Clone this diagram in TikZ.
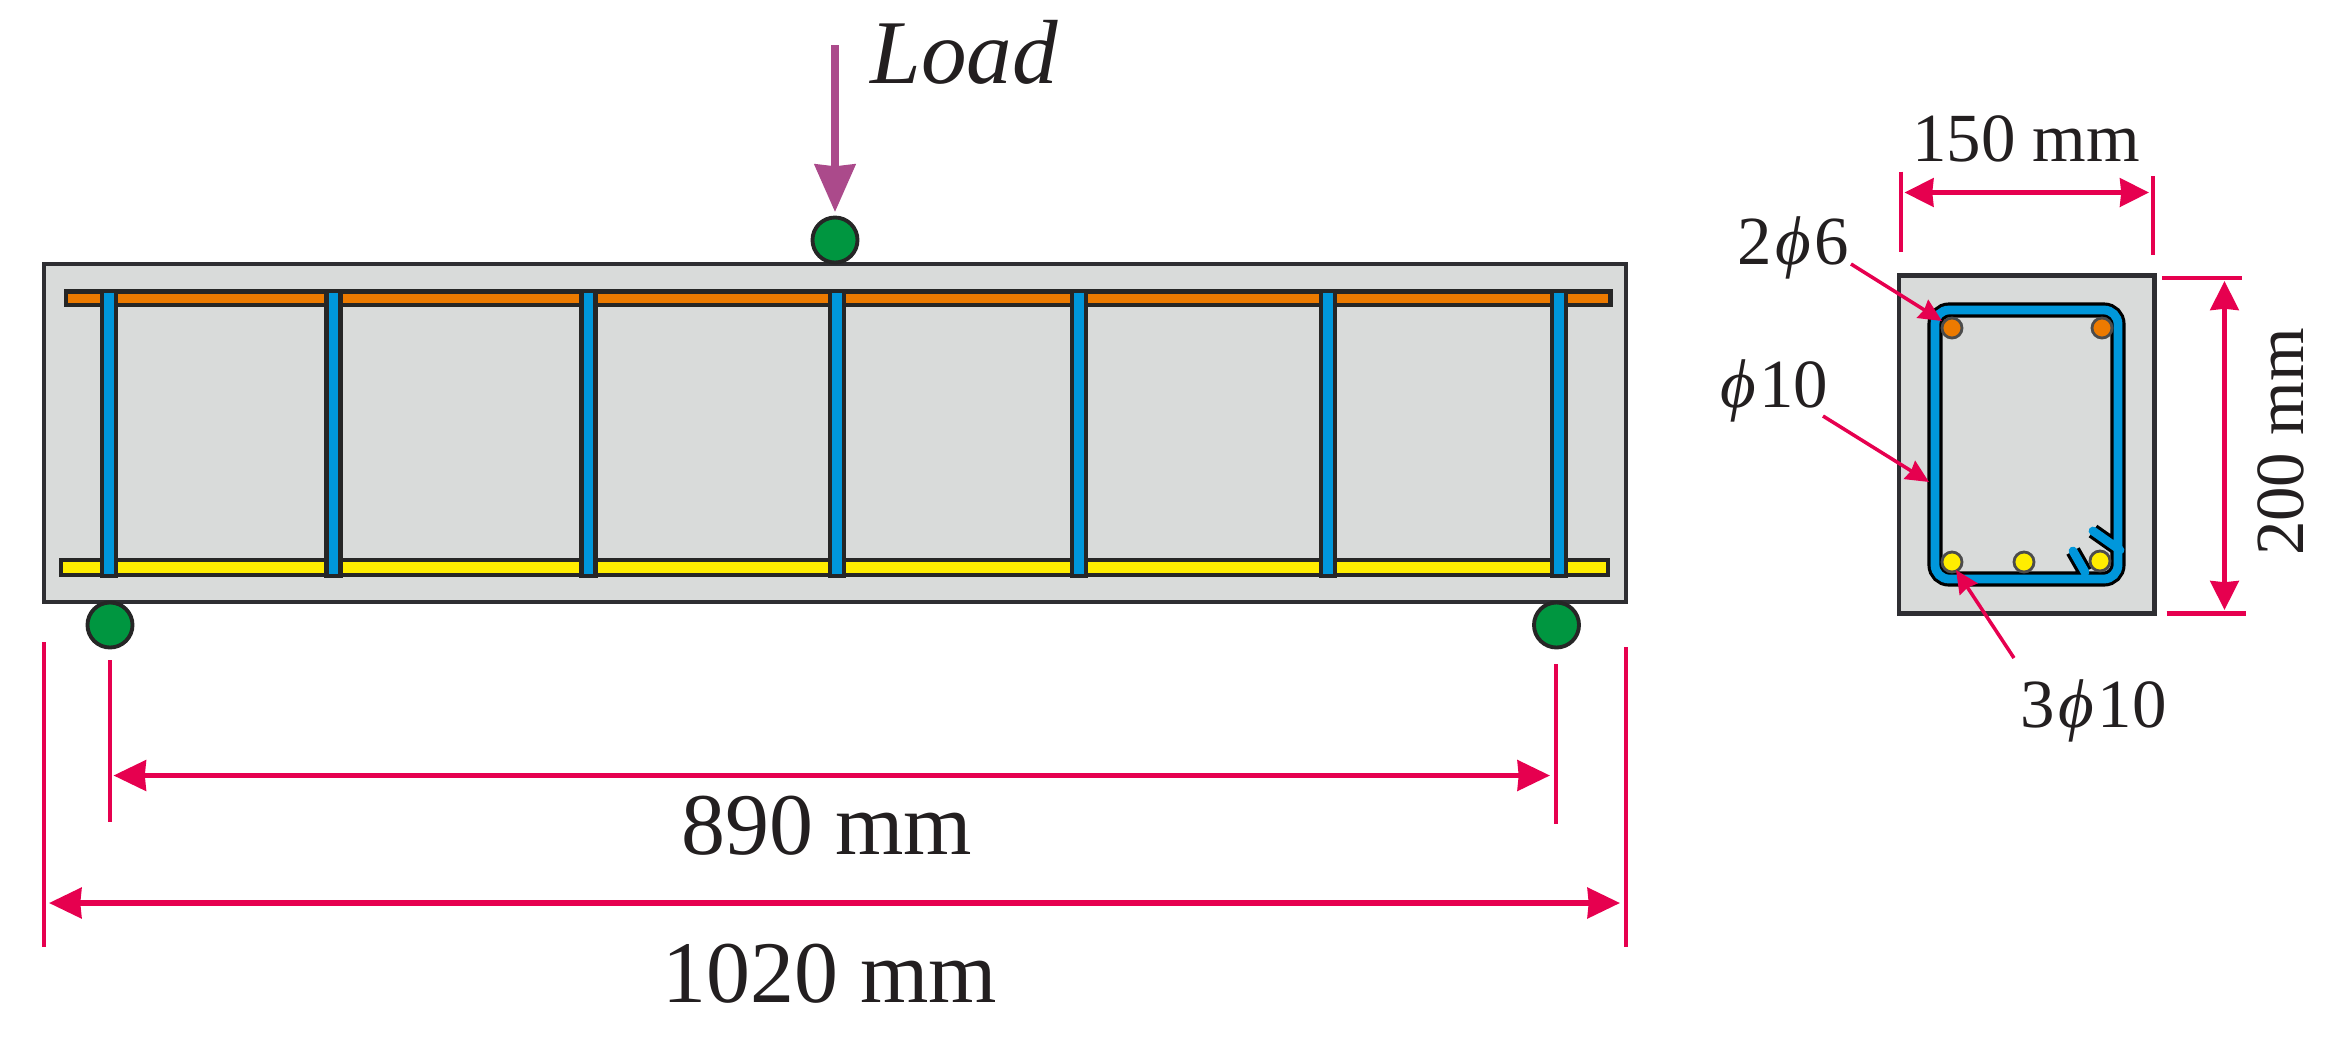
\documentclass[tikz,border=0pt]{standalone}
\usepackage{fontspec}
\usepackage{amsmath}
\setmainfont{Liberation Serif}
\usetikzlibrary{arrows.meta,positioning}
\definecolor{concrete}{HTML}{D9DBDA}
\definecolor{edge}{HTML}{2E2E32}
\definecolor{barblue}{HTML}{0097DB}
\definecolor{barorange}{HTML}{EC7A00}
\definecolor{baryellow}{HTML}{FFED00}
\definecolor{rollgreen}{HTML}{009640}
\definecolor{dimred}{HTML}{E6004F}
\definecolor{loadpurple}{HTML}{AB4A8B}
\definecolor{ink}{HTML}{231F20}
\newcommand{\diam}{\kern1pt\textit{ϕ}\kern1pt}
\tikzstyle{concretebody}=[draw=edge,fill=concrete,line width=1.4pt]
\tikzstyle{rebar}=[draw=black!85,line width=1.2pt]
\tikzstyle{roller}=[draw=black!85,circle,fill=rollgreen,line width=1.1pt,inner sep=0pt,minimum size=.45cm]
\tikzstyle{rod}=[draw=black!70,circle,line width=.8pt,inner sep=0pt,minimum size=.2cm]
\tikzstyle{hoop}=[preaction={draw=black,line width=4.3pt},draw=barblue,line width=2.5pt,line cap=round]
\tikzstyle{dimbig}=[draw=dimred,line width=1.5pt,{Stealth[length=9.2pt,width=8.6pt,inset=.3pt]}-{Stealth[length=9.2pt,width=8.6pt,inset=.3pt]}]
\tikzstyle{dimsmall}=[draw=dimred,line width=1.5pt,{Stealth[length=8.2pt,width=8pt,inset=.3pt]}-{Stealth[length=8.2pt,width=8pt,inset=.3pt]}]
\tikzstyle{dimtick}=[draw=dimred,line width=1.4pt]
\tikzstyle{leader}=[draw=dimred,line width=1pt,-{Stealth[length=6.5pt,width=6pt,inset=.5pt]}]
\tikzstyle{biglabel}=[anchor=base,inner sep=0pt,text=ink,font=\fontsize{25}{30}\selectfont]
\tikzstyle{smalllabel}=[anchor=base,inner sep=0pt,text=ink,font=\fontsize{19.6}{24}\selectfont]

\begin{document}
\begin{tikzpicture}[x=.01cm,y=-.01cm]
  \useasboundingbox (0,0) rectangle (2350,1041);

  % elevation
  \draw[concretebody] (44,264) rectangle (1626,602);
  \draw[rebar,fill=barorange] (66,291.5) rectangle (1610.5,305);
  \draw[rebar,fill=baryellow] (61,560) rectangle (1608,575);
  \foreach \x in {109,333.5,588.5,837,1079,1328,1559}
    \draw[rebar,fill=barblue] (\x-7,291) rectangle (\x+7,576);

  \node[roller] (top) at (835,240) {};
  \node[roller] (left) at (110,625) {};
  \node[roller] (right) at (1556.5,625) {};

  \coordinate (loadstart) at (835,45);
  \coordinate (loadtip) at (835,212);
  \draw[draw=loadpurple,line width=2pt,-{Stealth[length=13.5pt,width=11.5pt,inset=.5pt]}] (loadstart) -- (loadtip);
  \node[biglabel,anchor=base west,font=\fontsize{25.9}{30}\selectfont\itshape] (load) at (870,83) {Load};

  % dimensions below the beam
  \coordinate (s1) at (110,660);
  \coordinate (s2) at (110,822);
  \coordinate (s3) at (1556,664);
  \coordinate (s4) at (1556,824);
  \coordinate (l1) at (44,642);
  \coordinate (l2) at (44,947);
  \coordinate (l3) at (1626,647);
  \coordinate (l4) at (1626,947);
  \draw[dimtick] (s1) -- (s2) (s3) -- (s4) (l1) -- (l2) (l3) -- (l4);
  \draw[dimbig] (113.5,775.5) -- (1550,775.5);
  \draw[dimbig] (49,903) -- (1620,903);
  \node[biglabel] (span) at (827,854) {890 mm};
  \node[biglabel] (length) at (830,1002) {1020 mm};

  % cross section
  \draw[concretebody] (1899,275.5) rectangle (2154.5,613.5);
  \path[hoop,rounded corners=.14cm] (1935,310) rectangle (2118,579)
    (2085,572) [sharp corners] -- (2073,551) (2120,550) -- (2093,531);
  \node[rod,fill=barorange] (o1) at (1952,328) {};
  \node[rod,fill=barorange] (o2) at (2102,328) {};
  \node[rod,fill=baryellow] (y1) at (1952,562) {};
  \node[rod,fill=baryellow] (y2) at (2024,562) {};
  \node[rod,fill=baryellow] (y3) at (2100,561) {};

  \coordinate (w1) at (1901,171.5);
  \coordinate (w2) at (1901,252);
  \coordinate (w3) at (2153,176);
  \coordinate (w4) at (2153,255);
  \coordinate (h1) at (2162,278);
  \coordinate (h2) at (2241.5,278);
  \coordinate (h3) at (2166.5,613.5);
  \coordinate (h4) at (2246,613.5);
  \draw[dimtick] (w1) -- (w2) (w3) -- (w4) (h1) -- (h2) (h3) -- (h4);
  \draw[dimsmall] (1904.5,192.5) -- (2149,192.5);
  \draw[dimsmall] (2224.5,281) -- (2224.5,610);
  \node[smalllabel] (width) at (2026,161) {150 mm};
  \node[smalllabel,rotate=90] (height) at (2303,442) {200 mm};

  \node[smalllabel,anchor=base west] (upper) at (1737,264) {2\diam 6};
  \node[smalllabel,anchor=base west] (hooplab) at (1716,407) {\diam 10};
  \node[smalllabel,anchor=base west] (lower) at (2020,727) {3\diam 10};
  \coordinate (a1) at (1851,264);
  \coordinate (a2) at (1942,321);
  \coordinate (b1) at (1823,416);
  \coordinate (b2) at (1929,482);
  \coordinate (c1) at (2014,658);
  \coordinate (c2) at (1956,570);
  \draw[leader] (a1) -- (a2);
  \draw[leader] (b1) -- (b2);
  \draw[leader] (c1) -- (c2);
\end{tikzpicture}
\end{document}
